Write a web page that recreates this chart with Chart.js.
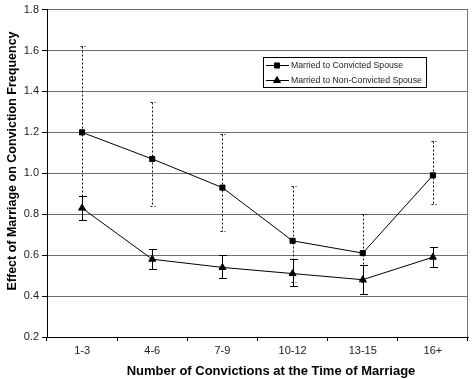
<!DOCTYPE html>
<html><head><meta charset="utf-8">
<script src="https://cdn.jsdelivr.net/npm/chart.js@4/dist/chart.umd.min.js"></script>
<style>html,body{margin:0;padding:0;background:#fff}#wrap{width:473px;height:379px}</style>
</head><body><div id="wrap"><canvas id="c" width="473" height="379"></canvas></div>
<script>
const categories = ['1-3', '4-6', '7-9', '10-12', '13-15', '16+'];
const convictedLabel = 'Married to Convicted Spouse';
const convicted = [1.20, 1.07, 0.93, 0.67, 0.61, 0.99];
const convictedLow = [0.89, 0.84, 0.72, 0.47, 0.47, 0.85];
const convictedHigh = [1.62, 1.35, 1.19, 0.94, 0.80, 1.16];
const nonConvictedLabel = 'Married to Non-Convicted Spouse';
const nonConvicted = [0.83, 0.58, 0.54, 0.51, 0.48, 0.59];
const nonConvictedLow = [0.77, 0.53, 0.49, 0.45, 0.41, 0.54];
const nonConvictedHigh = [0.89, 0.63, 0.60, 0.58, 0.55, 0.64];
const yTicks = [0.2, 0.4, 0.6, 0.8, 1.0, 1.2, 1.4, 1.6, 1.8];
const xTitle = 'Number of Convictions at the Time of Marriage';
const yTitle = 'Effect of Marriage on Conviction Frequency';

const FONT = '"Liberation Sans", Arial, sans-serif';

const errorBars = {
  id: 'errorBars',
  beforeDatasetsDraw(chart) {
    const { ctx, scales: { x, y }, chartArea } = chart;
    ctx.save();
    ctx.strokeStyle = '#777';
    ctx.lineWidth = 1;
    ctx.beginPath();
    ctx.moveTo(Math.round(chartArea.right) - 0.5, chartArea.top);
    ctx.lineTo(Math.round(chartArea.right) - 0.5, chartArea.bottom);
    ctx.stroke();
    const sets = [
      { low: convictedLow, high: convictedHigh, dash: [2, 2], cap: 2, color: '#111' },
      { low: nonConvictedLow, high: nonConvictedHigh, dash: [], cap: 3.5, color: '#000' }
    ];
    sets.forEach(s => {
      ctx.strokeStyle = s.color;
      ctx.lineWidth = 1;
      ctx.setLineDash(s.dash);
      s.low.forEach((lo, i) => {
        const px = Math.round(x.getPixelForValue(i)) + 0.5;
        const yl = Math.round(y.getPixelForValue(lo)) + 0.5;
        const yh = Math.round(y.getPixelForValue(s.high[i])) + 0.5;
        ctx.beginPath();
        ctx.moveTo(px, yh); ctx.lineTo(px, yl);
        ctx.moveTo(px - s.cap, yh); ctx.lineTo(px + s.cap + 1, yh);
        ctx.moveTo(px - s.cap, yl); ctx.lineTo(px + s.cap + 1, yl);
        ctx.stroke();
      });
    });
    ctx.restore();
  }
};

const extras = {
  id: 'extras',
  afterDraw(chart) {
    const { ctx } = chart;
    ctx.save();
    ctx.fillStyle = '#000';
    ctx.textAlign = 'center';
    ctx.textBaseline = 'middle';
    ctx.font = 'bold 13px ' + FONT;
    ctx.fillText(xTitle, 271, 371);
    ctx.translate(13, 161);
    ctx.rotate(-Math.PI / 2);
    ctx.font = 'bold 12.5px ' + FONT;
    ctx.fillText(yTitle, 0, 0);
    ctx.restore();

    ctx.save();
    const bx = 263.5, by = 57.5, bw = 163, bh = 30;
    ctx.fillStyle = '#fff';
    ctx.fillRect(bx, by, bw, bh);
    ctx.strokeStyle = '#000';
    ctx.lineWidth = 1;
    ctx.strokeRect(bx, by, bw, bh);
    chart.data.datasets.forEach((ds, i) => {
      const yy = 65.5 + i * 15;
      ctx.strokeStyle = '#000';
      ctx.beginPath();
      ctx.moveTo(266, yy); ctx.lineTo(289, yy);
      ctx.stroke();
      ctx.fillStyle = '#000';
      Chart.helpers.drawPoint(ctx, { pointStyle: ds.pointStyle, radius: ds.pointRadius, borderWidth: 1 }, 277, yy);
      ctx.fillStyle = '#222';
      ctx.font = '8.7px ' + FONT;
      ctx.textAlign = 'left';
      ctx.textBaseline = 'middle';
      ctx.fillText(ds.label, 291, yy + 0.5);
    });
    ctx.restore();
  }
};

new Chart(document.getElementById('c'), {
  type: 'line',
  data: {
    labels: categories,
    datasets: [
      { label: convictedLabel, data: convicted, borderColor: '#000', backgroundColor: '#000',
        borderWidth: 1, pointStyle: 'rect', pointRadius: 3.6, pointBorderWidth: 1, tension: 0 },
      { label: nonConvictedLabel, data: nonConvicted, borderColor: '#000', backgroundColor: '#000',
        borderWidth: 1, pointStyle: 'triangle', pointRadius: 4, pointBorderWidth: 1, tension: 0 }
    ]
  },
  options: {
    responsive: false, animation: false, devicePixelRatio: 1,
    layout: { padding: { top: 8, right: 1, left: 0, bottom: 0 } },
    plugins: { legend: { display: false }, tooltip: { enabled: false } },
    scales: {
      x: {
        offset: true,
        grid: { offset: true, drawOnChartArea: false, drawTicks: true, tickLength: 4, color: '#000' },
        border: { color: '#000', width: 1 },
        ticks: { font: { family: FONT, size: 11 }, color: '#222', padding: 3, maxRotation: 0 },
        afterFit(s) { s.height = 42; }
      },
      y: {
        min: 0.2, max: 1.8,
        afterBuildTicks(s) { s.ticks = yTicks.map(v => ({ value: v })); },
        ticks: { font: { family: FONT, size: 11 }, color: '#222', padding: 3,
                 callback: v => Number(v).toFixed(1) },
        grid: { color: '#6e6e6e', tickColor: '#000', tickLength: 5 },
        border: { color: '#000', width: 1 },
        afterFit(s) { s.width = 47; }
      }
    }
  },
  plugins: [errorBars, extras]
});
</script>
</body></html>
